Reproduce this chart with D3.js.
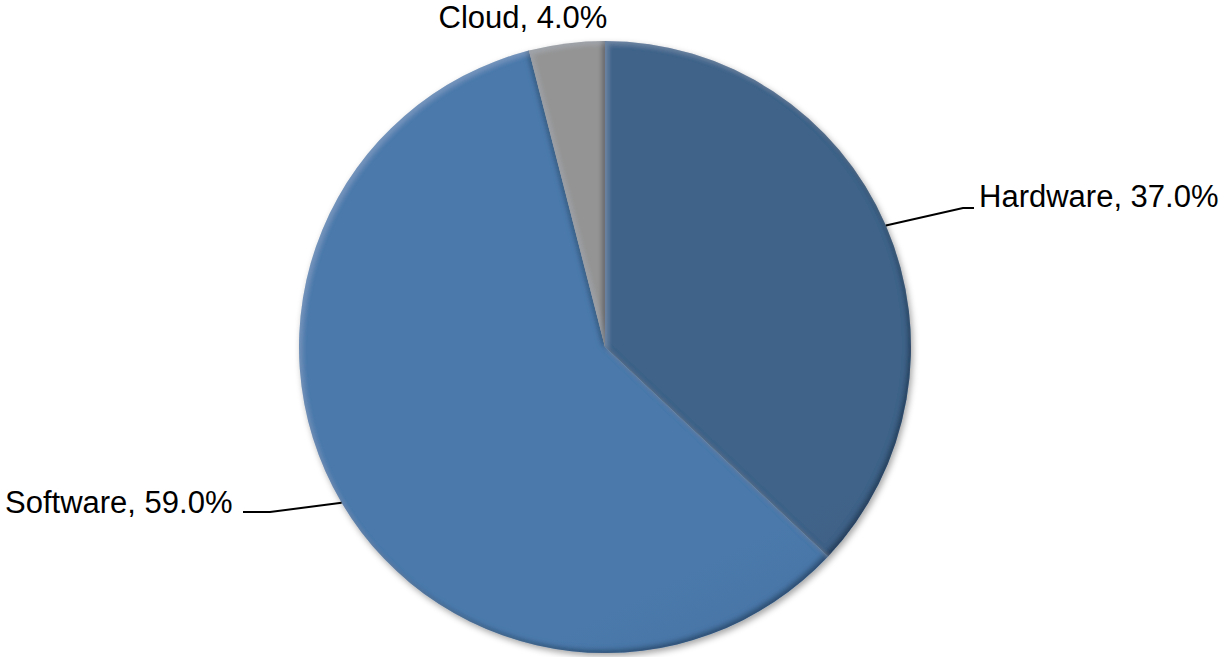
<!DOCTYPE html>
<html>
<head>
<meta charset="utf-8">
<script src="https://cdn.jsdelivr.net/npm/d3@7"></script>
<style>
  html, body { margin: 0; padding: 0; background: #fff; }
  svg { display: block; }
  text { font-family: "Liberation Sans", Arial, sans-serif; fill: #000; }
</style>
</head>
<body>
<svg id="chart" width="1226" height="657"></svg>
<script>
// Revenue split by segment
const categories = ["Hardware", "Software", "Cloud"];
const shares = [37.0, 59.0, 4.0];

const W = 1226, H = 657;
const cx = 605, cy = 347, R = 306;

const svg = d3.select("#chart");
const defs = svg.append("defs");

// slice fills: light at top-left, darker toward bottom-right
const fills = {
  Hardware: ["#406389", "#2d4762"],
  Software: ["#4b79ab", "#385a80"],
  Cloud:    ["#949494", "#7a7a7a"]
};
categories.forEach(c => {
  const g = defs.append("linearGradient")
    .attr("id", "grad-" + c)
    .attr("gradientUnits", "userSpaceOnUse")
    .attr("x1", cx - R * 0.5).attr("y1", cy - R)
    .attr("x2", cx + R * 0.5).attr("y2", cy + R);
  g.append("stop").attr("offset", "0%").attr("stop-color", fills[c][0]);
  g.append("stop").attr("offset", "100%").attr("stop-color", fills[c][1]);
});

// bevel: dark inner rim on lower-right edges, light rim on upper-left edges
const bevel = defs.append("filter").attr("id", "bevel")
  .attr("x", "-5%").attr("y", "-5%").attr("width", "110%").attr("height", "110%");
bevel.append("feGaussianBlur").attr("in", "SourceAlpha").attr("stdDeviation", 2.5).attr("result", "blur");
// dark inner shadow
bevel.append("feOffset").attr("in", "blur").attr("dx", -3).attr("dy", -3).attr("result", "offDark");
bevel.append("feComposite").attr("in", "SourceAlpha").attr("in2", "offDark")
  .attr("operator", "out").attr("result", "rimDark");
bevel.append("feFlood").attr("flood-color", "#0d1a2a").attr("flood-opacity", 0.6).attr("result", "cDark");
bevel.append("feComposite").attr("in", "cDark").attr("in2", "rimDark").attr("operator", "in").attr("result", "shadeDark");
// light inner highlight
bevel.append("feOffset").attr("in", "blur").attr("dx", 3).attr("dy", 3).attr("result", "offLight");
bevel.append("feComposite").attr("in", "SourceAlpha").attr("in2", "offLight")
  .attr("operator", "out").attr("result", "rimLight");
bevel.append("feFlood").attr("flood-color", "#cfe0f5").attr("flood-opacity", 0.2).attr("result", "cLight");
bevel.append("feComposite").attr("in", "cLight").attr("in2", "rimLight").attr("operator", "in").attr("result", "shadeLight");
const m = bevel.append("feMerge");
m.append("feMergeNode").attr("in", "SourceGraphic");
m.append("feMergeNode").attr("in", "shadeDark");
m.append("feMergeNode").attr("in", "shadeLight");

// soft outer shadow under the whole pie
const drop = defs.append("filter").attr("id", "drop")
  .attr("x", "-10%").attr("y", "-10%").attr("width", "120%").attr("height", "120%");
drop.append("feGaussianBlur").attr("in", "SourceAlpha").attr("stdDeviation", 3).attr("result", "b");
drop.append("feOffset").attr("in", "b").attr("dx", 2).attr("dy", 3).attr("result", "o");
drop.append("feFlood").attr("flood-color", "#000").attr("flood-opacity", 0.35).attr("result", "c");
drop.append("feComposite").attr("in", "c").attr("in2", "o").attr("operator", "in").attr("result", "s");
const dm = drop.append("feMerge");
dm.append("feMergeNode").attr("in", "s");
dm.append("feMergeNode").attr("in", "SourceGraphic");

const data = categories.map((c, i) => ({ name: c, value: shares[i] }));
const pie = d3.pie().sort(null).value(d => d.value);
const arc = d3.arc().innerRadius(0).outerRadius(R);
const arcs = pie(data);

const g = svg.append("g").attr("transform", `translate(${cx},${cy})`);
const pieG = g.append("g").attr("filter", "url(#drop)");
pieG.selectAll("path.slice")
  .data(arcs)
  .join("path")
  .attr("class", "slice")
  .attr("d", arc)
  .attr("fill", d => `url(#grad-${d.data.name})`)
  .attr("filter", "url(#bevel)");

// labels and leader lines
const fmt = d3.format(".1f");
const labelLayout = {
  Hardware: { x: 979, y: 207, anchor: "start", elbow: [963, 208], end: [974, 208] },
  Software: { x: 5, y: 513, anchor: "start", elbow: [270, 512], end: [243, 512] },
  Cloud:    { x: 523, y: 28, anchor: "middle" }
};

arcs.forEach(d => {
  const L = labelLayout[d.data.name];
  if (L.elbow) {
    const a = (d.startAngle + d.endAngle) / 2;
    const p0 = [cx + R * Math.sin(a), cy - R * Math.cos(a)];
    svg.append("polyline")
      .attr("points", [p0, L.elbow, L.end].map(p => p.join(",")).join(" "))
      .attr("fill", "none")
      .attr("stroke", "#000")
      .attr("stroke-width", 2);
  }
  svg.append("text")
    .attr("x", L.x).attr("y", L.y)
    .attr("text-anchor", L.anchor)
    .attr("font-size", 31)
    .text(`${d.data.name}, ${fmt(d.data.value)}%`);
});
</script>
</body>
</html>
